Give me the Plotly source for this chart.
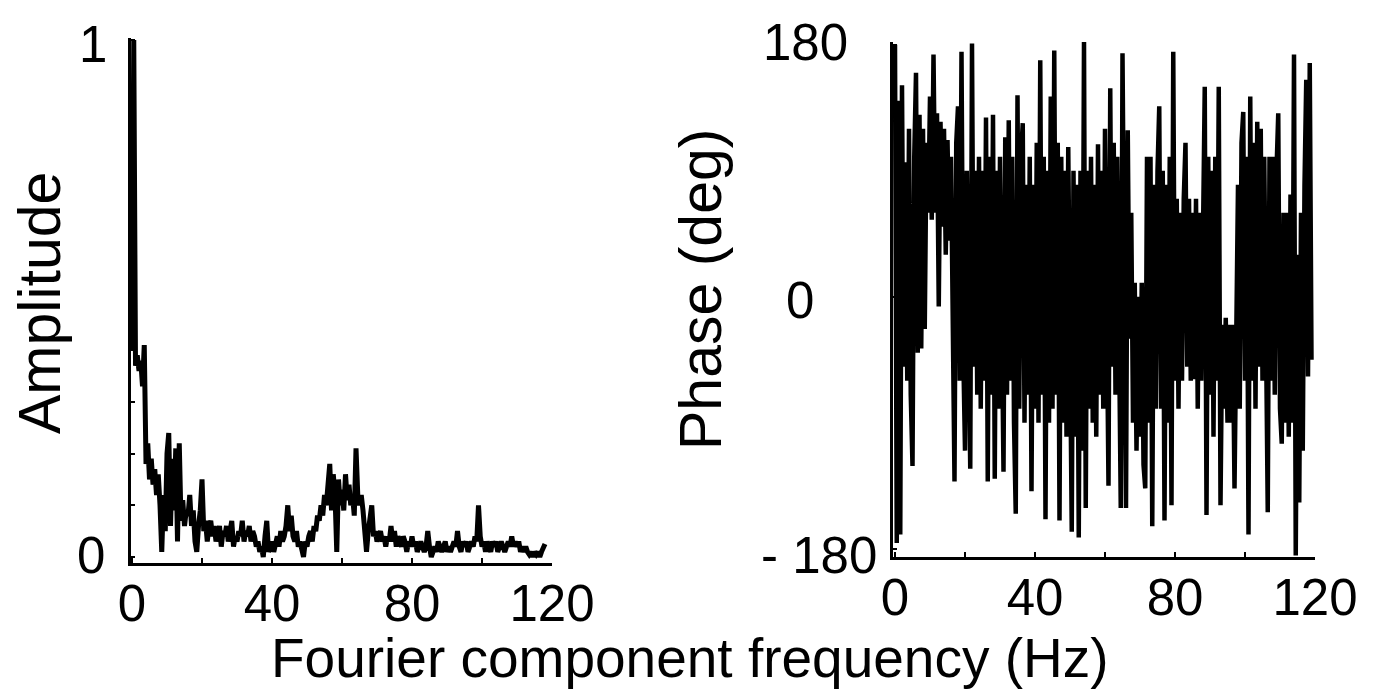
import plotly.graph_objects as go

# ---------------- data ----------------
freq_step = 0.5  # Hz between Fourier components

amplitude = [
    0.40, 1.00, 0.37, 0.39, 0.36, 0.38, 0.33, 0.41,   # 0-3.5
    0.18, 0.22, 0.15, 0.19, 0.14, 0.17, 0.12, 0.16,   # 4-7.5
    0.10, 0.01, 0.12, 0.05, 0.20, 0.24, 0.06, 0.19,   # 8-11.5
    0.09, 0.21, 0.03, 0.22, 0.07, 0.11, 0.06, 0.09,   # 12-15.5
    0.08, 0.12, 0.06, 0.09, 0.03, 0.01, 0.06, 0.09,   # 16-19.5
    0.15, 0.05, 0.07, 0.03, 0.06, 0.07, 0.04, 0.06,   # 20-23.5
    0.03, 0.05, 0.06, 0.02, 0.05, 0.04, 0.06, 0.03,   # 24-27.5
    0.05, 0.07, 0.02, 0.04, 0.03, 0.05, 0.04, 0.07,   # 28-31.5
    0.03, 0.05, 0.04, 0.06, 0.03, 0.05, 0.04, 0.02,   # 32-35.5
    0.03, 0.01, 0.02, 0.00, 0.04, 0.07, 0.01, 0.02,   # 36-39.5
    0.03, 0.01, 0.03, 0.04, 0.02, 0.05, 0.03, 0.04,   # 40-43.5
    0.06, 0.10, 0.05, 0.08, 0.04, 0.03, 0.05, 0.02,   # 44-47.5
    0.03, 0.01, 0.00, 0.03, 0.02, 0.04, 0.05, 0.03,   # 48-51.5
    0.06, 0.05, 0.08, 0.07, 0.10, 0.08, 0.12, 0.10,   # 52-55.5
    0.14, 0.18, 0.09, 0.16, 0.12, 0.01, 0.15, 0.10,   # 56-59.5
    0.13, 0.09, 0.16, 0.11, 0.14, 0.10, 0.12, 0.08,   # 60-63.5
    0.21, 0.12, 0.10, 0.12, 0.09, 0.06, 0.01, 0.05,   # 64-67.5
    0.07, 0.10, 0.04, 0.05, 0.03, 0.04, 0.05, 0.03,   # 68-71.5
    0.04, 0.02, 0.04, 0.03, 0.06, 0.03, 0.05, 0.02,   # 72-75.5
    0.04, 0.03, 0.02, 0.04, 0.03, 0.01, 0.03, 0.02,   # 76-79.5
    0.04, 0.02, 0.03, 0.01, 0.02, 0.03, 0.02, 0.01,   # 80-83.5
    0.02, 0.05, 0.02, 0.00, 0.01, 0.02, 0.01, 0.03,   # 84-87.5
    0.02, 0.01, 0.02, 0.03, 0.01, 0.02, 0.01, 0.02,   # 88-91.5
    0.03, 0.02, 0.05, 0.02, 0.01, 0.03, 0.02, 0.03,   # 92-95.5
    0.01, 0.02, 0.03, 0.02, 0.04, 0.03, 0.10, 0.04,   # 96-99.5
    0.02, 0.03, 0.01, 0.03, 0.02, 0.01, 0.03, 0.02,   # 100-103.5
    0.03, 0.01, 0.02, 0.03, 0.02, 0.01, 0.02, 0.03,   # 104-107.5
    0.02, 0.04, 0.02, 0.03, 0.02, 0.03, 0.01, 0.02,   # 108-111.5
    0.01, 0.02, 0.01, 0.005, 0.01, 0.00, 0.01, 0.005, # 112-115.5
    0.01, 0.00, 0.01, 0.02, 0.025,                    # 116-118
]

phase_deg = [
    180, -176, 140, -170, 151, -50, 96, -60,      # 0-3.5
    120, -70, -121, 100, 160, -40, 130, -37,      # 4-7.5
    120, -23, 110, 60, 143, 55, 173, 60,          # 8-11.5
    131, -7, 125, 50, 120, 30, 112, 40,           # 12-15.5
    100, -50, -132, 110, 136, -60, 175, -40,      # 16-19.5
    -110, 90, -60, -123, 181, -50, 90, -70,       # 20-23.5
    100, -80, 90, -60, 128, -132, 100, -70,       # 24-27.5
    130, -130, 90, -80, 100, -60, -125, 114,      # 28-31.5
    -70, 126, -60, 100, -90, -155, 144, -80,      # 32-35.5
    100, 124, -90, 80, -70, 100, -139, 80,        # 36-39.5
    -80, 110, -90, 169, -70, 100, -159, 90,       # 40-43.5
    -90, 143, -80, 176, -70, 110, -160, 100,      # 44-47.5
    -90, 90, -100, 107, -80, -168, 90, -100,      # 48-51.5
    80, -172, 90, -110, 182, -151, 90, -80,       # 52-55.5
    100, -90, 80, -100, 109, -70, 90, -80,        # 56-59.5
    120, -60, -135, 149, -50, 110, -70, 100,      # 60-63.5
    -60, -151, 174, -40, -151, 119, -30, 60,      # 64-67.5
    -90, 10, -110, 0, -100, 10, -120, -137,       # 68-71.5
    100, -90, 100, -164, 80, -80, 90, 136,        # 72-75.5
    -80, 90, -160, 80, -90, 100, -149, 175,       # 76-79.5
    -60, 70, -80, 60, -60, 70, 110, -50,          # 80-83.5
    70, -60, 60, -59, 70, -80, 60, -60,           # 84-87.5
    70, 150, -156, 100, -70, 90, -100, 100,       # 88-91.5
    -60, 150, -149, -20, -80, -15, -90, -20,      # 92-95.5
    -90, -20, -137, -20, 80, -80, 110, 132,       # 96-99.5
    -60, 100, -170, 143, -60, 110, -80, 125,      # 100-103.5
    -50, 120, -60, 100, -70, -154, 100, -60,      # 104-107.5
    100, -70, 90, 131, -80, -105, 60, -90,        # 108-111.5
    60, -100, 73, -90, 173, -185, 30, -147,       # 112-115.5
    60, -110, 80, 155, -57, 167, -45,             # 116-119
]

x_tick_vals = [0, 20, 40, 60, 80, 100, 120]
x_tick_text = ["0", "", "40", "", "80", "", "120"]

freq_amp = [i * freq_step for i in range(len(amplitude))]
freq_phase = [i * freq_step for i in range(len(phase_deg))]

# ---------------- figure ----------------
W, H = 1376, 700
FONT = "Liberation Sans, Arial, Helvetica, sans-serif"


def px_x(p):
    return p / W


def px_y(p):
    return 1 - p / H


fig = go.Figure()
fig.add_trace(go.Scatter(x=freq_amp, y=amplitude, mode="lines",
                         line=dict(color="black", width=5),
                         xaxis="x", yaxis="y", showlegend=False))
fig.add_trace(go.Scatter(x=freq_phase, y=phase_deg, mode="lines",
                         line=dict(color="black", width=4.5),
                         xaxis="x2", yaxis="y2", showlegend=False))

axis_common = dict(showline=True, linecolor="black", linewidth=3,
                   showgrid=False, zeroline=False, ticks="inside",
                   tickcolor="black", tickwidth=2, mirror=False,
                   automargin=False)

fig.update_layout(
    width=W, height=H,
    margin=dict(l=0, r=0, t=0, b=0, autoexpand=False),
    paper_bgcolor="white", plot_bgcolor="white",
    font=dict(family=FONT, color="black"),
    xaxis=dict(domain=[px_x(131), px_x(552)], range=[-0.29, 120.0],
               tickvals=x_tick_vals, ticktext=x_tick_text, ticklen=5,
               tickfont=dict(size=51, family=FONT, color="black"),
               ticklabelstandoff=-6, anchor="y", **axis_common),
    yaxis=dict(domain=[px_y(563), px_y(38)], range=[-0.0116, 1.0039],
               tickvals=[0, 0.1, 0.2, 0.3, 0.4, 0.5, 0.6, 0.7, 0.8, 0.9, 1.0],
               ticklen=4, showticklabels=False, anchor="x", **axis_common),
    xaxis2=dict(domain=[px_x(893), px_x(1315)], range=[-0.57, 120.0],
                tickvals=x_tick_vals, ticktext=x_tick_text, ticklen=5,
                tickfont=dict(size=51, family=FONT, color="black"),
                ticklabelstandoff=-6, anchor="y2", **axis_common),
    yaxis2=dict(domain=[px_y(557), px_y(42)], range=[-186, 182],
                tickvals=[-180, 0, 180], ticklen=4, showticklabels=False,
                anchor="x2", **axis_common),
)

annos = [
    # y tick labels
    ("1", 93, 45, 51, 0),
    ("0", 91, 555, 51, 0),
    ("180", 805, 42, 51, 0),
    ("0", 800, 300, 51, 0),
    ("- 180", 819, 555, 51, 0),
    # axis titles
    ("Amplitude", 40, 303, 59, -90),
    ("Phase (deg)", 701, 290, 59, -90),
    ("Fourier component frequency (Hz)", 690, 658, 55, 0),
]
for text, ax_, ay_, size, angle in annos:
    fig.add_annotation(text=text, x=px_x(ax_), y=px_y(ay_), xref="paper", yref="paper",
                       xanchor="center", yanchor="middle", showarrow=False,
                       textangle=angle, font=dict(size=size, family=FONT, color="black"))

fig.write_html("out.html")
